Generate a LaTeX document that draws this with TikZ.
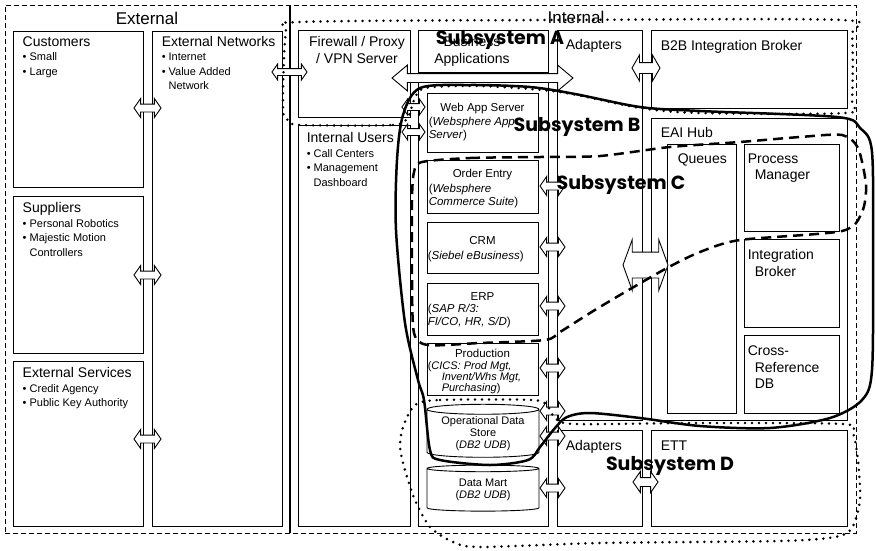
\documentclass[tikz,border=0pt]{standalone}
\usepackage{fontspec}
\setmainfont{Liberation Sans}
\newfontfamily\handfont{Poppins}
\usetikzlibrary{positioning,fit,shapes.arrows,shapes.geometric}

\tikzset{
  arch/box/.style={draw, line width=0.9pt, inner sep=0pt},
  arch/frame/.style={draw, line width=0.9pt, inner sep=0pt,
                     dash pattern=on 5pt off 3pt},
  arch/divider/.style={line width=1.8pt},
  arch/title/.style={font=\fontsize{17}{17}\selectfont, inner sep=0pt},
  arch/head/.style={font=\fontsize{14}{16.5}\selectfont, align=left,
                    inner sep=0pt, anchor=north west},
  arch/items/.style={font=\fontsize{11}{14.5}\selectfont, align=left,
                     inner sep=0pt, anchor=north west},
  arch/app/.style={font=\fontsize{11.5}{13.5}\selectfont, inner sep=0pt,
                   anchor=north},
  arch/detail/.style={font=\fontsize{11.5}{13.5}\selectfont, align=left,
                      inner sep=0pt, anchor=north west},
  arch/db/.style={cylinder, shape border rotate=90, draw, line width=0.9pt,
                  aspect=0.12, minimum width=112pt, align=center, inner sep=0pt,
                  font=\fontsize{11}{12}\selectfont},
  arch/link/.style={double arrow, draw, fill=white, line width=0.9pt,
                    inner xsep=0pt, inner ysep=3.5pt,
                    double arrow head extend=5.5pt,
                    double arrow tip angle=110, minimum height=#1},
  arch/link/.default=25pt,
  arch/sub/.style={font=\handfont\bfseries\fontsize{19}{19}\selectfont,
                   inner sep=0pt},
  arch/dotline/.style={line width=2.8pt, line cap=round,
                       dash pattern=on 0pt off 7pt},
  arch/solidline/.style={line width=2.5pt, line join=round},
  arch/dashline/.style={line width=2.5pt, dash pattern=on 10pt off 6pt},
}

\begin{document}
\begin{tikzpicture}[x=1pt, y=-1pt]
  \useasboundingbox (0,0) rectangle (876,550);

  % ---------------- frame and divider ----------------
  \node[arch/frame, fit={(5,5) (856,533)}] (frame) {};
  \coordinate (divtop) at (290,5);
  \coordinate (divbot) at (290,533);
  \draw[arch/divider] (divtop) -- (divbot);
  \node[arch/title] (exttitle) at (147,18) {External};
  \node[arch/title] (inttitle) at (576,17) {Internal};

  % ---------------- external column ----------------
  \node[arch/box, fit={(13,31) (143,187)}] (cust) {};
  \node[arch/box, fit={(13,196) (143,353)}] (supp) {};
  \node[arch/box, fit={(13,361) (143,526)}] (extsvc) {};
  \node[arch/box, fit={(152,31) (282,526)}] (extnet) {};

  \node[arch/head] (custT) at ([xshift=10pt, yshift=-6pt]cust.north west) {Customers};
  \node[arch/items] at ([yshift=-6pt]custT.base west) {• Small\\• Large};
  \node[arch/head] (suppT) at ([xshift=10pt, yshift=-7pt]supp.north west) {Suppliers};
  \node[arch/items] at ([yshift=-6pt]suppT.base west)
    {• Personal Robotics\\• Majestic Motion\\\phantom{• }Controllers};
  \node[arch/head] (extsvcT) at ([xshift=10pt, yshift=-7pt]extsvc.north west) {External Services};
  \node[arch/items] at ([yshift=-6pt]extsvcT.base west)
    {• Credit Agency\\• Public Key Authority};
  \node[arch/head] (extnetT) at ([xshift=10pt, yshift=-6pt]extnet.north west) {External Networks};
  \node[arch/items] at ([yshift=-6pt]extnetT.base west)
    {• Internet\\• Value Added\\\phantom{• }Network};

  % ---------------- internal: edge and users ----------------
  \node[arch/box, fit={(298,30) (410,117)}] (fw) {};
  \node[arch/box, fit={(298,125) (410,526)}] (intusr) {};
  \node[arch/head, anchor=north, align=center] at ([xshift=3pt, yshift=-7pt]fw.north)
    {Firewall / Proxy\\/ VPN Server};
  \node[arch/head] (intusrT) at ([xshift=9pt, yshift=-8pt]intusr.north west) {Internal Users};
  \node[arch/items] at ([yshift=-6pt]intusrT.base west)
    {• Call Centers\\• Management\\\phantom{• }Dashboard};

  % ---------------- business applications ----------------
  \node[arch/box, fit={(418,30) (548,72)}] (bizhdr) {};
  \node[arch/box, fit={(418,78) (548,526)}] (biz) {};
  \node[arch/head, anchor=north, align=center] at ([xshift=-11pt, yshift=-7pt]bizhdr.north)
    {Business\\Applications};

  \node[arch/box, fit={(427,93) (538,152)}] (webapp) {};
  \node[arch/box, fit={(427,160) (538,213)}] (order) {};
  \node[arch/box, fit={(427,222) (538,273)}] (crm) {};
  \node[arch/box, fit={(427,283) (538,335)}] (erp) {};
  \node[arch/box, fit={(427,343) (538,395)}] (prod) {};

  \node[arch/app] at ([yshift=-10pt]webapp.north) {Web App Server};
  \node[arch/detail] at ([xshift=2pt, yshift=-24pt]webapp.north west)
    {(\textit{Websphere App}\\\textit{Server})};
  \node[arch/app] at ([yshift=-9pt]order.north) {Order Entry};
  \node[arch/detail] at ([xshift=2pt, yshift=-24pt]order.north west)
    {(\textit{Websphere}\\\textit{Commerce Suite})};
  \node[arch/app] at ([yshift=-15pt]crm.north) {CRM};
  \node[arch/detail] at ([xshift=1pt, yshift=-29pt]crm.north west)
    {(\textit{Siebel eBusiness})};
  \node[arch/app] at ([yshift=-10pt]erp.north) {ERP};
  \node[arch/detail, font=\fontsize{11.5}{13}\selectfont] at ([xshift=1pt, yshift=-21pt]erp.north west)
    {(\textit{SAP R/3:}\\\textit{FI/CO, HR, S/D})};
  \node[arch/app] at ([yshift=-6pt]prod.north) {Production};
  \node[arch/detail, font=\fontsize{11}{11}\selectfont] at ([xshift=1pt, yshift=-19pt]prod.north west)
    {(\textit{CICS: Prod Mgt,}\\\hspace*{14pt}\textit{Invent/Whs Mgt,}\\\hspace*{14pt}\textit{Purchasing})};

  \node[arch/db, minimum height=53pt] (ods) at (483,433.5)
    {Operational Data\\Store\\(\textit{DB2 UDB})};
  \node[arch/db, minimum height=46pt] (dmart) at (483,490)
    {Data Mart\\(\textit{DB2 UDB})};

  % ---------------- adapters and integration ----------------
  \node[arch/box, fit={(557,30) (642,420)}] (adapt) {};
  \node[arch/box, fit={(557,430) (642,526)}] (adapt2) {};
  \node[arch/box, fit={(651,30) (847,108)}] (b2b) {};
  \node[arch/box, fit={(651,118) (847,420)}] (eai) {};
  \node[arch/box, fit={(667,144) (736,413)}] (queues) {};
  \node[arch/box, fit={(744,144) (839,231)}] (procmgr) {};
  \node[arch/box, fit={(744,239) (839,327)}] (intbrk) {};
  \node[arch/box, fit={(744,335) (839,413)}] (xref) {};
  \node[arch/box, fit={(651,430) (847,526)}] (ett) {};

  \node[arch/head] at ([xshift=9pt, yshift=-10pt]adapt.north west) {Adapters};
  \node[arch/head] at ([xshift=9pt, yshift=-11pt]adapt2.north west) {Adapters};
  \node[arch/head] at ([xshift=10pt, yshift=-11pt]b2b.north west) {B2B Integration Broker};
  \node[arch/head] at ([xshift=10pt, yshift=-10pt]eai.north west) {EAI Hub};
  \node[arch/head] at ([xshift=11pt, yshift=-10pt]queues.north west) {Queues};
  \node[arch/head] at ([xshift=4pt, yshift=-10pt]procmgr.north west)
    {Process\\\hspace*{7pt}Manager};
  \node[arch/head] at ([xshift=4pt, yshift=-11pt]intbrk.north west)
    {Integration\\\hspace*{7pt}Broker};
  \node[arch/head] at ([xshift=4pt, yshift=-11pt]xref.north west)
    {Cross-\\\hspace*{7pt}Reference\\\hspace*{7pt}DB};
  \node[arch/head] at ([xshift=10pt, yshift=-11pt]ett.north west) {ETT};

  % ---------------- bus links ----------------
  \node[arch/link=27pt] (lnk1) at (147.5,108) {};
  \node[arch/link=27pt] (lnk2) at (147.5,275) {};
  \node[arch/link=27pt] (lnk3) at (147.5,439) {};
  \node[arch/link=35pt, inner ysep=3pt, double arrow head extend=4.5pt] (lnkfw) at (289.5,72) {};
  \node[arch/link=181pt, inner ysep=4pt, double arrow head extend=8.5pt,
        double arrow tip angle=80] (bizbus) at (482.5,78) {};
  \node[arch/link=23pt, inner ysep=3pt, double arrow head extend=4.5pt] (lnkweb) at (413.5,107) {};
  \node[arch/link=23pt, inner ysep=3pt, double arrow head extend=4.5pt] (lnkusr) at (413.5,132) {};
  \foreach \y/\n in {186/order, 247/crm, 306/erp, 368/prod, 411/ods, 436/adp, 488/dmart}
    \node[arch/link] (lnk\n) at (552.5,\y) {};
  \node[arch/link=28pt, inner ysep=5pt, double arrow head extend=7.5pt,
        double arrow tip angle=120] (lnkb2b) at (646,68) {};
  \node[arch/link=45pt, inner ysep=12.5pt, double arrow head extend=12.5pt,
        double arrow tip angle=140] (lnkeai) at (645.5,265) {};
  \node[arch/link, inner ysep=4pt, double arrow head extend=6pt] (lnkett) at (645.5,482) {};

  % ---------------- subsystem outlines ----------------
  \draw[arch/dotline] plot[smooth cycle, tension=0.45] coordinates {
    (300,125) (393,125) (408,117) (414,100) (425,88) (480,86) (560,92)
    (640,108) (700,113) (846,113) (852,100) (852,35) (842,20) (560,20)
    (300,22) (286,32) (283,110) (290,121)};
  \draw[arch/solidline] plot[smooth cycle, tension=0.5] coordinates {
    (420,88) (470,85) (530,87) (575,94) (640,107) (700,111) (837,117)
    (860,128) (872,152) (873,260) (872,370) (862,400) (830,418) (770,428)
    (700,426) (640,418) (590,413) (567,417) (555,428) (540,447) (528,460)
    (490,465) (440,460) (430,450) (424,400) (418,380) (405,323) (396,230)
    (397,160) (403,115)};
  \draw[arch/dashline] plot[smooth cycle, tension=0.45] coordinates {
    (422,162) (470,158) (540,157) (600,156) (670,147) (740,142) (800,137)
    (842,135) (858,148) (866,185) (862,212) (842,231) (740,240) (700,252)
    (667,268) (620,295) (590,313) (560,332) (545,340) (480,343) (428,345)
    (414,333) (412,280) (412,200) (414,172)};
  \draw[arch/dotline] plot[smooth cycle, tension=0.45] coordinates {
    (415,405) (440,400) (533,400) (548,407) (555,418) (575,424) (700,423)
    (843,424) (853,433) (858,460) (860,500) (852,528) (835,537) (780,541)
    (600,543) (480,547) (453,542) (430,527) (415,500) (405,470) (400,447)
    (403,427)};

  \node[arch/sub] (subA) at (500,40) {Subsystem A};
  \node[arch/sub] (subB) at (577,127) {Subsystem B};
  \node[arch/sub] (subC) at (621,185) {Subsystem C};
  \node[arch/sub] (subD) at (670,466) {Subsystem D};

\end{tikzpicture}
\end{document}
